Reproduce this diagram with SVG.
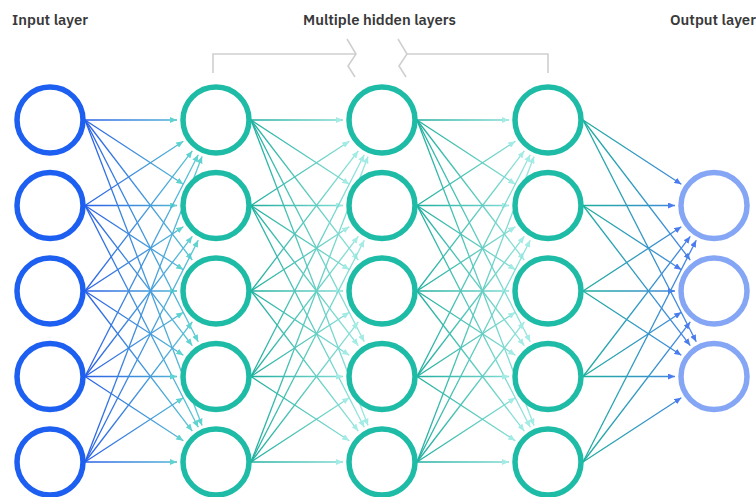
<svg xmlns="http://www.w3.org/2000/svg" width="756" height="497" viewBox="0 0 756 497">
<style>
.lbl{font-family:"IBM Plex Sans","Noto Sans","Open Sans","Liberation Sans",sans-serif;font-weight:600;font-size:14px;fill:#393939}
.node circle{fill:#fff;stroke-width:5.5}
.in circle{stroke:#1d5ff0}
.hid circle{stroke:#1ebca6}
.out circle{stroke:#85a6f5}
.bracket{fill:none;stroke:#cfcfcf;stroke-width:1.6}
#edges line{stroke-width:1.3;fill:none}
.p1 line{stroke:url(#g1);marker-end:url(#a1)}
.p2 line{stroke:url(#g2);marker-end:url(#a2)}
.p3 line{stroke:url(#g3);marker-end:url(#a2)}
.p4 line{stroke:url(#g4);marker-end:url(#a4)}
</style>
<defs>
<linearGradient id="g1" gradientUnits="userSpaceOnUse" x1="85" y1="0" x2="210" y2="0"><stop offset="0" stop-color="#2a5fe6"/><stop offset="1" stop-color="#5fd3d0"/></linearGradient>
<linearGradient id="g2" gradientUnits="userSpaceOnUse" x1="251" y1="0" x2="376" y2="0"><stop offset="0" stop-color="#1fae9e"/><stop offset="1" stop-color="#a3ebe5"/></linearGradient>
<linearGradient id="g3" gradientUnits="userSpaceOnUse" x1="417" y1="0" x2="542" y2="0"><stop offset="0" stop-color="#1fae9e"/><stop offset="1" stop-color="#a3ebe5"/></linearGradient>
<linearGradient id="g4" gradientUnits="userSpaceOnUse" x1="583" y1="0" x2="708" y2="0"><stop offset="0" stop-color="#1fae9e"/><stop offset="1" stop-color="#4a7cf0"/></linearGradient>
<marker id="a1" markerUnits="userSpaceOnUse" markerWidth="8" markerHeight="6" refX="7" refY="3" orient="auto"><path d="M0,0 L7,3 L0,6 z" fill="#5fd3d0"/></marker>
<marker id="a2" markerUnits="userSpaceOnUse" markerWidth="8" markerHeight="6" refX="7" refY="3" orient="auto"><path d="M0,0 L7,3 L0,6 z" fill="#a3ebe5"/></marker>
<marker id="a4" markerUnits="userSpaceOnUse" markerWidth="8" markerHeight="6" refX="7" refY="3" orient="auto"><path d="M0,0 L7,3 L0,6 z" fill="#4a7cf0"/></marker>
</defs>
<rect width="756" height="497" fill="#fff"/>

<g id="labels">
<text class="lbl" x="12" y="25" textLength="76" lengthAdjust="spacingAndGlyphs">Input layer</text>
<text class="lbl" x="303" y="25" textLength="153" lengthAdjust="spacingAndGlyphs">Multiple hidden layers</text>
<text class="lbl" x="670" y="25" textLength="86" lengthAdjust="spacingAndGlyphs">Output layer</text>
</g>

<g id="bracket" class="bracket">
<path d="M213,73 V54 H356"/>
<path d="M347,39 L356,54 L348,66 L355,77"/>
<path d="M398,39 L407,54 L399,66 L406,77"/>
<path d="M407,54 H548 V73"/>
</g>

<g id="edges">
<g class="p1">
<line x1="85" y1="120" x2="177" y2="120"/>
<line x1="85" y1="120" x2="183.34" y2="184.18"/>
<line x1="85" y1="120" x2="192.28" y2="260.04"/>
<line x1="85" y1="120" x2="198.26" y2="341.77"/>
<line x1="85" y1="120" x2="202.05" y2="425.58"/>
<line x1="85" y1="205.5" x2="183.34" y2="141.32"/>
<line x1="85" y1="205.5" x2="177" y2="205.5"/>
<line x1="85" y1="205.5" x2="183.34" y2="269.68"/>
<line x1="85" y1="205.5" x2="192.28" y2="345.54"/>
<line x1="85" y1="205.5" x2="198.26" y2="427.27"/>
<line x1="85" y1="291" x2="192.28" y2="150.96"/>
<line x1="85" y1="291" x2="183.34" y2="226.82"/>
<line x1="85" y1="291" x2="177" y2="291"/>
<line x1="85" y1="291" x2="183.34" y2="355.18"/>
<line x1="85" y1="291" x2="192.28" y2="431.04"/>
<line x1="85" y1="376.5" x2="198.26" y2="154.73"/>
<line x1="85" y1="376.5" x2="192.28" y2="236.46"/>
<line x1="85" y1="376.5" x2="183.34" y2="312.32"/>
<line x1="85" y1="376.5" x2="177" y2="376.5"/>
<line x1="85" y1="376.5" x2="183.34" y2="440.68"/>
<line x1="85" y1="462" x2="202.05" y2="156.42"/>
<line x1="85" y1="462" x2="198.26" y2="240.23"/>
<line x1="85" y1="462" x2="192.28" y2="321.96"/>
<line x1="85" y1="462" x2="183.34" y2="397.82"/>
<line x1="85" y1="462" x2="177" y2="462"/>
</g>
<g class="p2">
<line x1="251" y1="120" x2="343" y2="120"/>
<line x1="251" y1="120" x2="349.34" y2="184.18"/>
<line x1="251" y1="120" x2="358.28" y2="260.04"/>
<line x1="251" y1="120" x2="364.26" y2="341.77"/>
<line x1="251" y1="120" x2="368.05" y2="425.58"/>
<line x1="251" y1="205.5" x2="349.34" y2="141.32"/>
<line x1="251" y1="205.5" x2="343" y2="205.5"/>
<line x1="251" y1="205.5" x2="349.34" y2="269.68"/>
<line x1="251" y1="205.5" x2="358.28" y2="345.54"/>
<line x1="251" y1="205.5" x2="364.26" y2="427.27"/>
<line x1="251" y1="291" x2="358.28" y2="150.96"/>
<line x1="251" y1="291" x2="349.34" y2="226.82"/>
<line x1="251" y1="291" x2="343" y2="291"/>
<line x1="251" y1="291" x2="349.34" y2="355.18"/>
<line x1="251" y1="291" x2="358.28" y2="431.04"/>
<line x1="251" y1="376.5" x2="364.26" y2="154.73"/>
<line x1="251" y1="376.5" x2="358.28" y2="236.46"/>
<line x1="251" y1="376.5" x2="349.34" y2="312.32"/>
<line x1="251" y1="376.5" x2="343" y2="376.5"/>
<line x1="251" y1="376.5" x2="349.34" y2="440.68"/>
<line x1="251" y1="462" x2="368.05" y2="156.42"/>
<line x1="251" y1="462" x2="364.26" y2="240.23"/>
<line x1="251" y1="462" x2="358.28" y2="321.96"/>
<line x1="251" y1="462" x2="349.34" y2="397.82"/>
<line x1="251" y1="462" x2="343" y2="462"/>
</g>
<g class="p3">
<line x1="417" y1="120" x2="509" y2="120"/>
<line x1="417" y1="120" x2="515.34" y2="184.18"/>
<line x1="417" y1="120" x2="524.28" y2="260.04"/>
<line x1="417" y1="120" x2="530.26" y2="341.77"/>
<line x1="417" y1="120" x2="534.05" y2="425.58"/>
<line x1="417" y1="205.5" x2="515.34" y2="141.32"/>
<line x1="417" y1="205.5" x2="509" y2="205.5"/>
<line x1="417" y1="205.5" x2="515.34" y2="269.68"/>
<line x1="417" y1="205.5" x2="524.28" y2="345.54"/>
<line x1="417" y1="205.5" x2="530.26" y2="427.27"/>
<line x1="417" y1="291" x2="524.28" y2="150.96"/>
<line x1="417" y1="291" x2="515.34" y2="226.82"/>
<line x1="417" y1="291" x2="509" y2="291"/>
<line x1="417" y1="291" x2="515.34" y2="355.18"/>
<line x1="417" y1="291" x2="524.28" y2="431.04"/>
<line x1="417" y1="376.5" x2="530.26" y2="154.73"/>
<line x1="417" y1="376.5" x2="524.28" y2="236.46"/>
<line x1="417" y1="376.5" x2="515.34" y2="312.32"/>
<line x1="417" y1="376.5" x2="509" y2="376.5"/>
<line x1="417" y1="376.5" x2="515.34" y2="440.68"/>
<line x1="417" y1="462" x2="534.05" y2="156.42"/>
<line x1="417" y1="462" x2="530.26" y2="240.23"/>
<line x1="417" y1="462" x2="524.28" y2="321.96"/>
<line x1="417" y1="462" x2="515.34" y2="397.82"/>
<line x1="417" y1="462" x2="509" y2="462"/>
</g>
<g class="p4">
<line x1="583" y1="120" x2="681.34" y2="184.18"/>
<line x1="583" y1="120" x2="690.28" y2="260.04"/>
<line x1="583" y1="120" x2="696.26" y2="341.77"/>
<line x1="583" y1="205.5" x2="675" y2="205.5"/>
<line x1="583" y1="205.5" x2="681.34" y2="269.68"/>
<line x1="583" y1="205.5" x2="690.28" y2="345.54"/>
<line x1="583" y1="291" x2="681.34" y2="226.82"/>
<line x1="583" y1="291" x2="675" y2="291"/>
<line x1="583" y1="291" x2="681.34" y2="355.18"/>
<line x1="583" y1="376.5" x2="690.28" y2="236.46"/>
<line x1="583" y1="376.5" x2="681.34" y2="312.32"/>
<line x1="583" y1="376.5" x2="675" y2="376.5"/>
<line x1="583" y1="462" x2="696.26" y2="240.23"/>
<line x1="583" y1="462" x2="690.28" y2="321.96"/>
<line x1="583" y1="462" x2="681.34" y2="397.82"/>
</g>
</g>

<g id="in1" class="node in"><circle cx="50" cy="120" r="33"/></g>
<g id="in2" class="node in"><circle cx="50" cy="205.5" r="33"/></g>
<g id="in3" class="node in"><circle cx="50" cy="291" r="33"/></g>
<g id="in4" class="node in"><circle cx="50" cy="376.5" r="33"/></g>
<g id="in5" class="node in"><circle cx="50" cy="462" r="33"/></g>

<g id="h1n1" class="node hid"><circle cx="216" cy="120" r="33"/></g>
<g id="h1n2" class="node hid"><circle cx="216" cy="205.5" r="33"/></g>
<g id="h1n3" class="node hid"><circle cx="216" cy="291" r="33"/></g>
<g id="h1n4" class="node hid"><circle cx="216" cy="376.5" r="33"/></g>
<g id="h1n5" class="node hid"><circle cx="216" cy="462" r="33"/></g>

<g id="h2n1" class="node hid"><circle cx="382" cy="120" r="33"/></g>
<g id="h2n2" class="node hid"><circle cx="382" cy="205.5" r="33"/></g>
<g id="h2n3" class="node hid"><circle cx="382" cy="291" r="33"/></g>
<g id="h2n4" class="node hid"><circle cx="382" cy="376.5" r="33"/></g>
<g id="h2n5" class="node hid"><circle cx="382" cy="462" r="33"/></g>

<g id="h3n1" class="node hid"><circle cx="548" cy="120" r="33"/></g>
<g id="h3n2" class="node hid"><circle cx="548" cy="205.5" r="33"/></g>
<g id="h3n3" class="node hid"><circle cx="548" cy="291" r="33"/></g>
<g id="h3n4" class="node hid"><circle cx="548" cy="376.5" r="33"/></g>
<g id="h3n5" class="node hid"><circle cx="548" cy="462" r="33"/></g>

<g id="out1" class="node out"><circle cx="714" cy="205.5" r="33"/></g>
<g id="out2" class="node out"><circle cx="714" cy="291" r="33"/></g>
<g id="out3" class="node out"><circle cx="714" cy="376.5" r="33"/></g>
</svg>
